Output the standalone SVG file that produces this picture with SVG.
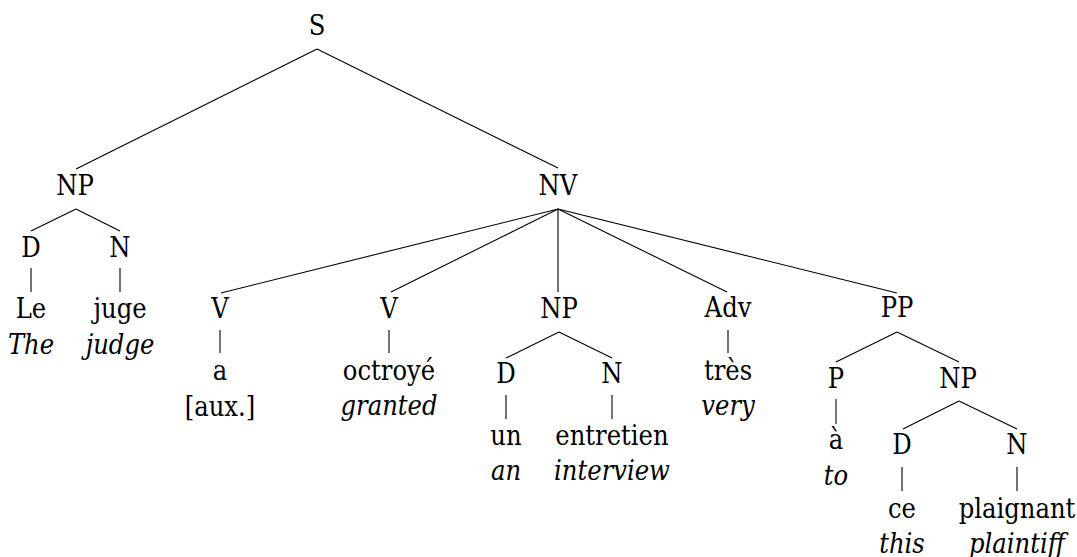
<svg xmlns="http://www.w3.org/2000/svg" width="1077" height="557" viewBox="0 0 1077 557">
<style>
text{font-family:"DejaVu Serif Condensed","DejaVu Serif",serif;font-stretch:condensed;font-size:27px;fill:#000;text-anchor:middle}
.g{font-style:italic}
.e line{stroke:#000;stroke-width:1.1;fill:none}
</style>
<rect width="1077" height="557" fill="#fff"/>
<g class="e" id="connectors">
<line x1="317" y1="49" x2="76" y2="169"/>
<line x1="317" y1="49" x2="558" y2="168"/>
<line x1="76" y1="209" x2="31" y2="231"/>
<line x1="76" y1="209" x2="120" y2="231"/>
<line x1="31" y1="268" x2="31" y2="292"/>
<line x1="120" y1="268" x2="120" y2="292"/>
<line x1="558" y1="209" x2="221" y2="293"/>
<line x1="558" y1="209" x2="391" y2="292"/>
<line x1="558" y1="209" x2="558" y2="292"/>
<line x1="558" y1="209" x2="727" y2="292"/>
<line x1="558" y1="209" x2="897" y2="293"/>
<line x1="220" y1="330" x2="220" y2="353"/>
<line x1="389" y1="330" x2="389" y2="353"/>
<line x1="728" y1="330" x2="728" y2="353"/>
<line x1="559" y1="332" x2="506" y2="358"/>
<line x1="559" y1="332" x2="612" y2="358"/>
<line x1="506" y1="395" x2="506" y2="419"/>
<line x1="612" y1="395" x2="612" y2="419"/>
<line x1="897" y1="332" x2="836" y2="362"/>
<line x1="897" y1="332" x2="959" y2="362"/>
<line x1="836" y1="399" x2="836" y2="424"/>
<line x1="959" y1="401" x2="903" y2="429"/>
<line x1="959" y1="401" x2="1017" y2="429"/>
<line x1="902" y1="467" x2="902" y2="491"/>
<line x1="1017" y1="467" x2="1017" y2="491"/>
</g>
<g id="n-S"><text x="317" y="35">S</text></g>
<g id="n-NP1"><text x="75" y="195">NP</text></g>
<g id="n-D1"><text x="31" y="257">D</text></g>
<g id="n-N1"><text x="120" y="257">N</text></g>
<g id="w-Le"><text x="31" y="318">Le</text><text class="g" x="31" y="354">The</text></g>
<g id="w-juge"><text x="120" y="318">juge</text><text class="g" x="120" y="354">judge</text></g>
<g id="n-NV"><text x="558" y="195">NV</text></g>
<g id="n-V1"><text x="220" y="318">V</text></g>
<g id="w-a"><text x="220" y="380">a</text><text x="220" y="416">[aux.]</text></g>
<g id="n-V2"><text x="389" y="318">V</text></g>
<g id="w-octroye"><text x="389" y="380">octroyé</text><text class="g" x="389" y="415">granted</text></g>
<g id="n-NP2"><text x="559" y="318">NP</text></g>
<g id="n-D2"><text x="506" y="383">D</text></g>
<g id="n-N2"><text x="612" y="383">N</text></g>
<g id="w-un"><text x="506" y="445">un</text><text class="g" x="506" y="480">an</text></g>
<g id="w-entretien"><text x="612" y="445">entretien</text><text class="g" x="612" y="480">interview</text></g>
<g id="n-Adv"><text x="728" y="317">Adv</text></g>
<g id="w-tres"><text x="728" y="380">très</text><text class="g" x="728" y="415">very</text></g>
<g id="n-PP"><text x="897" y="317">PP</text></g>
<g id="n-P"><text x="836" y="388">P</text></g>
<g id="w-a2"><text x="836" y="449">à</text><text class="g" x="836" y="485">to</text></g>
<g id="n-NP3"><text x="958" y="388">NP</text></g>
<g id="n-D3"><text x="902" y="454">D</text></g>
<g id="n-N3"><text x="1017" y="454">N</text></g>
<g id="w-ce"><text x="902" y="518">ce</text><text class="g" x="902" y="553">this</text></g>
<g id="w-plaignant"><text x="1017" y="518">plaignant</text><text class="g" x="1017" y="553">plaintiff</text></g>
</svg>
